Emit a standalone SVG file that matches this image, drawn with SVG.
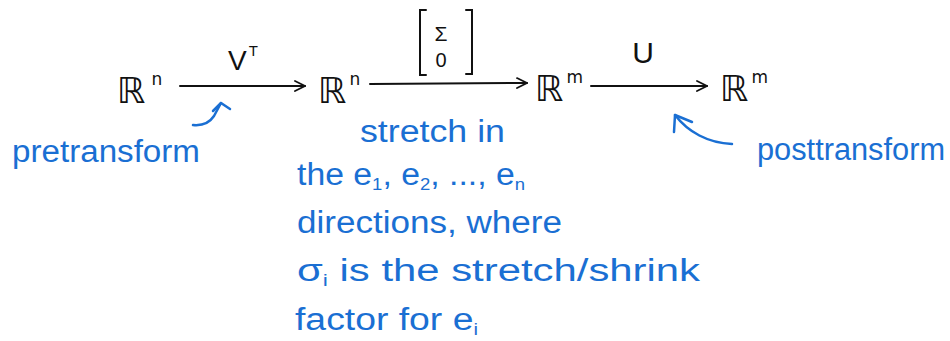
<svg xmlns="http://www.w3.org/2000/svg" width="950" height="341" viewBox="0 0 950 341">
<defs>
<style>
.k{font-family:"DejaVu Sans","Liberation Sans",sans-serif;fill:#111}
.sp{font-size:36px}
.sup{font-size:17px}
.lab{font-family:"Liberation Sans","DejaVu Sans",sans-serif;fill:#111}
.b{font-family:"Liberation Sans","DejaVu Sans",sans-serif;fill:#1a6fd3;font-size:31px}
.sub{font-size:17px}
.ln{stroke:#111;stroke-width:2;fill:none;stroke-linecap:round}
.bl{stroke:#1a6fd3;stroke-width:2.5;fill:none;stroke-linecap:round;stroke-linejoin:round}
</style>
<marker id="ah" viewBox="0 0 12 12" refX="11" refY="6" markerWidth="12" markerHeight="12" markerUnits="userSpaceOnUse" orient="auto">
<path d="M1,1 L11,6 L1,11" stroke="#111" stroke-width="1.8" fill="none" stroke-linecap="round"/>
</marker>
</defs>
<rect width="950" height="341" fill="#fff"/>
<g id="rn1"><text class="k sp" x="117" y="103">ℝ<tspan class="sup" dx="6" dy="-18">n</tspan></text></g>
<g id="rn2"><text class="k sp" x="318" y="103">ℝ<tspan class="sup" dx="3" dy="-18">n</tspan></text></g>
<g id="rm1"><text class="k sp" x="535" y="101">ℝ<tspan class="sup" dx="3" dy="-18">m</tspan></text></g>
<g id="rm2"><text class="k sp" x="720" y="101">ℝ<tspan class="sup" dx="3" dy="-18">m</tspan></text></g>
<g id="connectors">
<line class="ln" x1="180" y1="86" x2="305" y2="86" marker-end="url(#ah)"/>
<line class="ln" x1="370" y1="84" x2="527" y2="83" marker-end="url(#ah)"/>
<line class="ln" x1="591" y1="86" x2="707" y2="86" marker-end="url(#ah)"/>
</g>
<g id="labels">
<text class="lab" x="228" y="70" font-size="28">V<tspan font-size="15" dx="2" dy="-14">T</tspan></text>
<path class="ln" d="M426,10 L420,10 L420,75 L426,75"/>
<path class="ln" d="M466,10 L472,10 L472,74 L466,74"/>
<text class="lab" x="441" y="41" font-size="21" text-anchor="middle">Σ</text>
<text class="lab" x="441" y="67" font-size="20" text-anchor="middle">0</text>
<text class="lab" x="643" y="63" font-size="30" text-anchor="middle">U</text>
</g>
<g id="annotations">
<path class="bl" d="M193,125 C203,126 210,122 214,116 L221,103"/>
<path class="bl" d="M213,111 L221,103 L230,109"/>
<path class="bl" d="M732,144 C708,143 688,132 675,115"/>
<path class="bl" d="M674,132 L675,115 L692,122"/>
<text class="b" x="12" y="162" textLength="188" lengthAdjust="spacingAndGlyphs">pretransform</text>
<text class="b" x="757" y="160" textLength="188" lengthAdjust="spacingAndGlyphs">posttransform</text>
<text class="b" x="360" y="142" textLength="145" lengthAdjust="spacingAndGlyphs">stretch in</text>
<text class="b" x="297" y="185" textLength="228" lengthAdjust="spacingAndGlyphs">the e<tspan class="sub" dy="5">1</tspan><tspan dy="-5">, e</tspan><tspan class="sub" dy="5">2</tspan><tspan dy="-5">, ..., e</tspan><tspan class="sub" dy="5">n</tspan></text>
<text class="b" x="297" y="233" textLength="265" lengthAdjust="spacingAndGlyphs">directions, where</text>
<text class="b" x="297" y="281" textLength="403" lengthAdjust="spacingAndGlyphs">σ<tspan class="sub" dy="5">i</tspan><tspan dy="-5"> is the stretch/shrink</tspan></text>
<text class="b" x="295" y="330" textLength="183" lengthAdjust="spacingAndGlyphs">factor for e<tspan class="sub" dy="5">i</tspan></text>
</g>
</svg>
